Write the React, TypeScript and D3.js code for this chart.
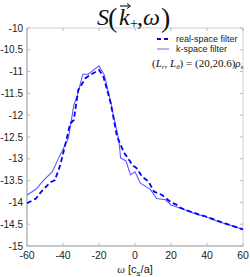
import React, { useEffect, useRef } from "react";
import * as d3 from "d3";

// omega values and S values
const kOmega = [-60, -55, -51, -46, -42.5, -37, -34, -32, -29, -26, -20, -17, -14, -9, -8, -5, -2.5, 0, 3, 8.5, 12, 17, 20, 25, 30, 35, 40, 45, 50, 55, 60];
const kValue = [-13.83, -13.7, -13.5, -13.3, -12.99, -12.53, -11.77, -11.54, -11.06, -11.06, -10.87, -11.08, -11.61, -12.57, -12.98, -13.05, -13.37, -13.3, -13.56, -13.7, -13.91, -13.94, -14.06, -14.13, -14.21, -14.28, -14.34, -14.42, -14.49, -14.55, -14.62];
const rOmega = [-60, -55, -52, -47, -44.5, -41.5, -39, -36, -34, -31.5, -27.5, -25, -20, -17.5, -13.5, -10, -6, -4.5, -1.5, 1, 4, 7.5, 10.5, 15, 20, 23, 25, 30, 35, 40, 45, 50, 55, 60];
const rValue = [-14.02, -13.91, -13.75, -13.54, -13.49, -13.14, -12.72, -12.19, -12.11, -11.42, -11.15, -11.08, -10.96, -11.12, -11.72, -12.49, -12.87, -12.95, -13.14, -13.22, -13.41, -13.52, -13.75, -13.83, -14.0, -14.05, -14.12, -14.2, -14.27, -14.33, -14.41, -14.48, -14.55, -14.62];

const xTicks = [-60, -40, -20, 0, 20, 40, 60];
const yTicks = [-10, -10.5, -11, -11.5, -12, -12.5, -13, -13.5, -14, -14.5, -15];
const legendLabels = ["real-space filter", "k-space filter"];

export default function App() {
  const svgRef = useRef<SVGSVGElement>(null);

  useEffect(() => {
    const svg = d3.select(svgRef.current);
    svg.selectAll("*").remove();

    const left = 27, right = 243, top = 28, bottom = 246;
    const x = d3.scaleLinear().domain([-60, 60]).range([left, right]);
    const y = d3.scaleLinear().domain([-15, -10]).range([bottom, top]);
    const font = "Liberation Sans, Arial, sans-serif";
    const math = "Liberation Serif, Times New Roman, serif";

    // box
    svg.append("rect")
      .attr("x", left).attr("y", top)
      .attr("width", right - left).attr("height", bottom - top)
      .attr("fill", "none").attr("stroke", "#d0d0d0").attr("stroke-width", 1);
    svg.append("line")
      .attr("x1", left).attr("x2", left).attr("y1", top).attr("y2", bottom)
      .attr("stroke", "#c8c8c8").attr("stroke-width", 2);
    svg.append("line")
      .attr("x1", left).attr("x2", right).attr("y1", bottom).attr("y2", bottom)
      .attr("stroke", "#c8c8c8").attr("stroke-width", 2);

    // ticks (inside) + labels
    const tk = svg.append("g").attr("stroke", "#b8b8b8").attr("stroke-width", 1);
    xTicks.forEach((t) => {
      tk.append("line").attr("x1", x(t)).attr("x2", x(t)).attr("y1", bottom).attr("y2", bottom - 3);
      tk.append("line").attr("x1", x(t)).attr("x2", x(t)).attr("y1", top).attr("y2", top + 3);
    });
    yTicks.forEach((t) => {
      tk.append("line").attr("x1", left).attr("x2", left + 3).attr("y1", y(t)).attr("y2", y(t));
      tk.append("line").attr("x1", right).attr("x2", right - 3).attr("y1", y(t)).attr("y2", y(t));
    });

    svg.append("g").selectAll("text").data(xTicks).join("text")
      .attr("x", (d) => x(d)).attr("y", bottom + 13)
      .attr("text-anchor", "middle")
      .attr("font-family", font).attr("font-size", 10.5).attr("fill", "#222")
      .text((d) => String(d));

    svg.append("g").selectAll("text").data(yTicks).join("text")
      .attr("x", left - 4).attr("y", (d) => y(d) + 3.5)
      .attr("text-anchor", "end")
      .attr("font-family", font).attr("font-size", 10).attr("fill", "#222")
      .text((d) => String(d));

    // curves
    const line = d3.line<[number, number]>().x((d) => x(d[0])).y((d) => y(d[1]));
    const kData = kOmega.map((o, i) => [o, kValue[i]] as [number, number]);
    const rData = rOmega.map((o, i) => [o, rValue[i]] as [number, number]);

    svg.append("path").attr("d", line(kData))
      .attr("fill", "none").attr("stroke", "#5a5aff").attr("stroke-width", 1.1);
    svg.append("path").attr("d", line(rData))
      .attr("fill", "none").attr("stroke", "#0000ff").attr("stroke-width", 1.8)
      .attr("stroke-dasharray", "5,3");

    // legend
    const lg = svg.append("g");
    lg.append("line").attr("x1", 157).attr("x2", 169).attr("y1", 39).attr("y2", 39)
      .attr("stroke", "#0000ff").attr("stroke-width", 1.8).attr("stroke-dasharray", "4,3");
    lg.append("line").attr("x1", 157).attr("x2", 169).attr("y1", 49).attr("y2", 49)
      .attr("stroke", "#9a9aff").attr("stroke-width", 1.5);
    lg.selectAll("text").data(legendLabels).join("text")
      .attr("x", 176).attr("y", (d, i) => 42 + i * 10)
      .attr("font-family", font).attr("font-size", 9).attr("fill", "#222")
      .text((d) => d);

    const ann = svg.append("text").attr("x", 152).attr("y", 67)
      .attr("font-family", math).attr("font-size", 11).attr("fill", "#111");
    ann.append("tspan").text("(");
    ann.append("tspan").attr("font-style", "italic").text("L");
    ann.append("tspan").attr("font-style", "italic").attr("font-size", 7).attr("dy", 2).text("r");
    ann.append("tspan").attr("dy", -2).text(", ");
    ann.append("tspan").attr("font-style", "italic").text("L");
    ann.append("tspan").attr("font-style", "italic").attr("font-size", 7).attr("dy", 2).text("θ");
    ann.append("tspan").attr("dy", -2).text(") = (20,20.6)");
    ann.append("tspan").attr("font-style", "italic").text("ρ");
    ann.append("tspan").attr("font-style", "italic").attr("font-size", 7).attr("dy", 2).text("s");

    // title, glyph by glyph
    const tg = svg.append("g").attr("font-family", math).attr("fill", "#111");
    const glyph = (s: string, gx: number, gy: number, size: number, italic: boolean) =>
      tg.append("text").attr("x", gx).attr("y", gy).attr("font-size", size)
        .attr("font-style", italic ? "italic" : "normal").text(s);
    glyph("S", 97, 25, 24, true);
    glyph("(", 108, 27, 28, false);
    glyph("k", 119, 25, 24, true);
    glyph("+", 130, 28, 14, false);
    glyph(",", 137, 25, 24, false);
    glyph("ω", 143, 25, 24, true);
    glyph(")", 161, 27, 28, false);

    // vector arrow over k
    const ax1 = 120, ax2 = 130, ay = 6;
    tg.append("line").attr("x1", ax1).attr("x2", ax2).attr("y1", ay).attr("y2", ay)
      .attr("stroke", "#111").attr("stroke-width", 1.1);
    tg.append("path").attr("d", `M${ax2 - 3},${ay - 2.5} L${ax2 + 0.5},${ay} L${ax2 - 3},${ay + 2.5}`)
      .attr("fill", "none").attr("stroke", "#111").attr("stroke-width", 1);

    // x label
    const xl = svg.append("text").attr("x", 135).attr("y", 273)
      .attr("text-anchor", "middle")
      .attr("font-family", font).attr("font-size", 11).attr("fill", "#222");
    xl.append("tspan").attr("font-style", "italic").attr("font-family", math).text("ω");
    xl.append("tspan").text(" [c");
    xl.append("tspan").attr("font-size", 8).attr("dy", 3).text("s");
    xl.append("tspan").attr("dy", -3).text("/a]");
  }, []);

  return (
    <div style={{ position: "absolute", left: 0, top: 0 }}>
      <svg ref={svgRef} width={250} height={277} style={{ display: "block", background: "#fff" }}></svg>
    </div>
  );
}
